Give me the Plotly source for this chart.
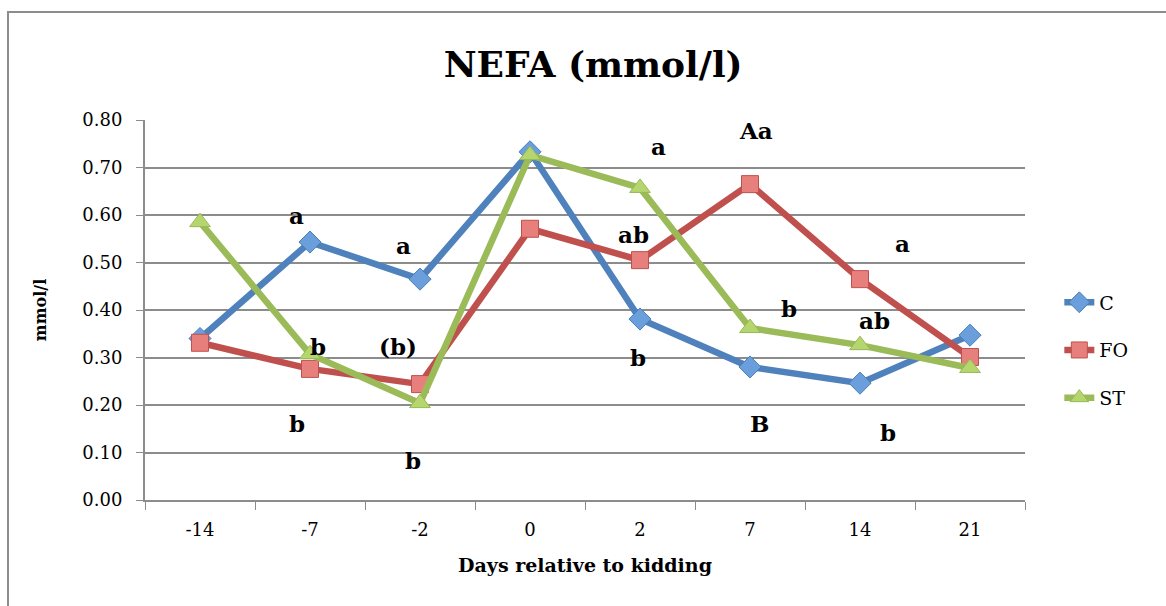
import plotly.graph_objects as go

days = ["-14", "-7", "-2", "0", "2", "7", "14", "21"]
c_vals = [0.340, 0.543, 0.465, 0.733, 0.381, 0.280, 0.246, 0.347]
fo_vals = [0.331, 0.276, 0.244, 0.571, 0.505, 0.665, 0.465, 0.301]
st_vals = [0.585, 0.307, 0.204, 0.726, 0.657, 0.362, 0.326, 0.278]

# significance letters: (category index position, y value, text)
letters_x = [0.88, 1.07, 0.88, 1.85, 1.8, 1.94, 4.17, 3.94, 3.98, 5.05, 5.09, 5.35, 6.39, 6.13, 6.25]
letters_y = [0.598, 0.324, 0.162, 0.535, 0.324, 0.084, 0.745, 0.558, 0.299, 0.777, 0.162, 0.404, 0.541, 0.377, 0.143]
letters_t = ["a", "b", "b", "a", "(b)", "b", "a", "ab", "b", "Aa", "B", "b", "a", "ab", "b"]

serif = "DejaVu Serif"

fig = go.Figure()
series = [
    ("C", c_vals, "#4F81BD", "diamond", "#6A9FDB", "#4A7EBB", 17),
    ("FO", fo_vals, "#C0504D", "square", "#E7807D", "#C0504D", 17),
    ("ST", st_vals, "#9BBB59", "triangle-up", "#B5D56F", "#98B954", 18),
]
for name, vals, col, sym, fill, edge, size in series:
    fig.add_trace(go.Scatter(
        x=days, y=vals, name=name, mode="lines+markers",
        legendgroup=name,
        line=dict(color=col, width=6.5),
        marker=dict(symbol=sym, size=size, color=fill, line=dict(color=edge, width=1)),
    ))

for xv, yv, t in zip(letters_x, letters_y, letters_t):
    fig.add_annotation(x=xv, y=yv, xref="x", yref="y", text="<b>" + t + "</b>",
                       showarrow=False, font=dict(family=serif, size=23, color="black"))

# outer chart border
fig.add_shape(type="rect", xref="paper", yref="paper",
              x0=(8 - 145) / 880, x1=(1170 - 145) / 880,
              y0=(500 - 620) / 380, y1=(500 - 12) / 380,
              line=dict(color="#8C8C8C", width=2), fillcolor="rgba(0,0,0,0)", layer="below")

fig.update_layout(
    width=1166, height=606,
    margin=dict(l=145, r=141, t=120, b=106),
    paper_bgcolor="white", plot_bgcolor="white",
    title=dict(text="<b>NEFA (mmol/l)</b>", x=0.5087, xanchor="center", y=0.893, yanchor="middle",
               font=dict(family=serif, size=36, color="black")),
    xaxis=dict(
        type="category", tickson="boundaries", ticks="outside", ticklen=8, tickcolor="#8C8C8C",
        showline=True, linecolor="#8C8C8C", linewidth=2, showgrid=False,
        range=[-0.5, 7.5], ticklabelstandoff=12,
        tickfont=dict(family=serif, size=18, color="black"),
        title=dict(text="<b>Days relative to kidding</b>", standoff=20,
                   font=dict(family=serif, size=19, color="black")),
    ),
    yaxis=dict(
        range=[0, 0.8], dtick=0.1, tickformat=".2f", ticks="outside", ticklen=7,
        tickcolor="#8C8C8C", showline=True, linecolor="#8C8C8C", linewidth=2,
        showgrid=True, gridcolor="#8C8C8C", gridwidth=2, zeroline=False,
        ticklabelstandoff=10,
        tickfont=dict(family=serif, size=18, color="black"),
        title=dict(text="<b>mmol/l</b>", standoff=32,
                   font=dict(family=serif, size=16, color="black")),
    ),
    showlegend=True,
    legend=dict(x=1.039, xanchor="left", y=0.57, yanchor="top", traceorder="grouped",
                tracegroupgap=20, font=dict(family=serif, size=19, color="black"),
                bgcolor="rgba(0,0,0,0)"),
)

fig.write_html("out.html")
